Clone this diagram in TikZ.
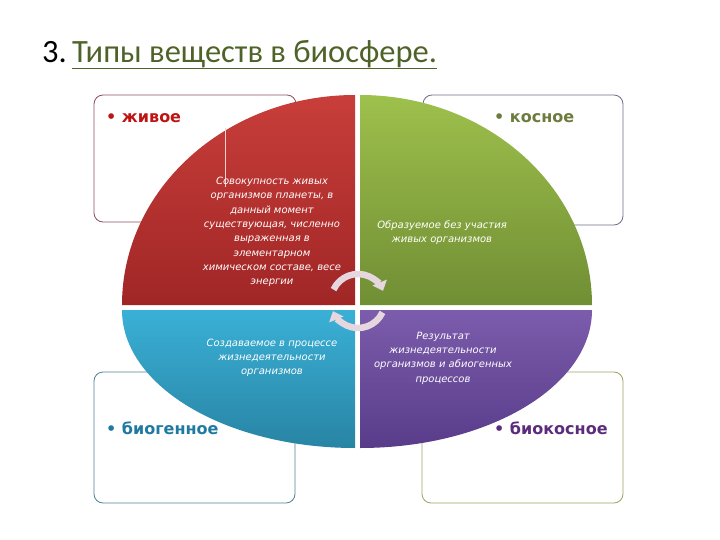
\documentclass[tikz,border=0pt]{standalone}
\usepackage{fontspec}
\setmainfont{DejaVu Sans}
\newfontfamily\titlefont{Carlito}
\usetikzlibrary{arrows.meta}

\definecolor{redtop}{RGB}{200,62,58}
\definecolor{redbot}{RGB}{160,38,38}
\definecolor{greentop}{RGB}{158,192,76}
\definecolor{greenbot}{RGB}{112,142,52}
\definecolor{bluetop}{RGB}{58,176,214}
\definecolor{bluebot}{RGB}{40,132,164}
\definecolor{purptop}{RGB}{124,92,172}
\definecolor{purpbot}{RGB}{88,60,138}
\definecolor{olivetitle}{RGB}{79,98,40}
\definecolor{arrowpink}{RGB}{230,214,222}
\definecolor{boxred}{RGB}{142,80,96}
\definecolor{boxgrey}{RGB}{110,110,140}
\definecolor{boxteal}{RGB}{80,130,150}
\definecolor{boxolive}{RGB}{160,160,100}
\definecolor{livered}{RGB}{190,20,20}
\definecolor{inertgreen}{RGB}{108,124,60}
\definecolor{biogblue}{RGB}{30,122,160}
\definecolor{bioinertpurp}{RGB}{92,44,124}

\begin{document}
\begin{tikzpicture}[x=1pt,y=-1pt,
        box/.style={rounded corners=9pt,line width=0.8pt,fill=white},
        label/.style={anchor=west,inner sep=0pt,font=\bfseries\fontsize{16}{19}\selectfont},
        info/.style={text=white,align=center,inner sep=0pt,font=\itshape\fontsize{10}{14.3}\selectfont},
        turn/.style={arrowpink,line width=6.5pt,-{Triangle[width=15pt,length=9pt]}}]

    \useasboundingbox (0,0) rectangle (720,540);

    % title
    \node[anchor=base west,inner sep=0pt,font=\titlefont\fontsize{32.5}{38}\selectfont] (num) at (42,63) {3.};
    \node[anchor=base west,inner sep=0pt,text=olivetitle,font=\titlefont\fontsize{32.5}{38}\selectfont] (title) at (72,63) {Типы веществ в биосфере.};
    \draw[olivetitle,line width=1.6pt] ([yshift=-5.5pt]title.base west) -- ([yshift=-5.5pt]title.base east);

    % boxes
    \draw[box,draw=boxred] (94,95) rectangle (296,222);
    \draw[box,draw=boxgrey] (423,95) rectangle (623,225);
    \draw[box,draw=boxteal] (94,372) rectangle (295,503);
    \draw[box,draw=boxolive] (422,372) rectangle (623,503);

    % quadrants
    \shade[top color=redtop,bottom color=redbot] (355,305) -- (122,305) arc[start angle=180,end angle=270,x radius=233,y radius=210] -- cycle;
    \shade[top color=greentop,bottom color=greenbot] (360,305) -- (360,95) arc[start angle=270,end angle=360,x radius=232,y radius=210] -- cycle;
    \shade[top color=bluetop,bottom color=bluebot] (355,310) -- (122,310) arc[start angle=180,end angle=90,x radius=233,y radius=138] -- cycle;
    \shade[top color=purptop,bottom color=purpbot] (360,310) -- (592,310) arc[start angle=0,end angle=90,x radius=232,y radius=138] -- cycle;
    \draw[white!80!red,line width=0.6pt] (225,128) -- (225,187);

    % labels
    \node[label,text=livered] (live) at (106,118) {\textbullet\ живое};
    \node[label,text=inertgreen] (inert) at (494,118) {\textbullet\ косное};
    \node[label,text=biogblue] (biog) at (106,428) {\textbullet\ биогенное};
    \node[label,text=bioinertpurp] (bioinert) at (494,428) {\textbullet\ биокосное};

    \node[info] (livetext) at (272,232) {Совокупность живых\\организмов планеты, в\\данный момент\\существующая, численно\\выраженная в\\элементарном\\химическом составе, весе\\энергии};
    \node[info] (inerttext) at (442,233) {Образуемое без участия\\живых организмов};
    \node[info] (biogtext) at (272,358) {Создаваемое в процессе\\жизнедеятельности\\организмов};
    \node[info] (bioinerttext) at (443,358) {Результат\\жизнедеятельности\\организмов и абиогенных\\процессов};

    % cycle arrows
    \coordinate (hub) at (358,301);
    \draw[turn] ([shift={(205:27)}]hub) arc[start angle=205,end angle=338,radius=27];
    \draw[turn] ([shift={(25:27)}]hub) arc[start angle=25,end angle=158,radius=27];
\end{tikzpicture}
\end{document}
